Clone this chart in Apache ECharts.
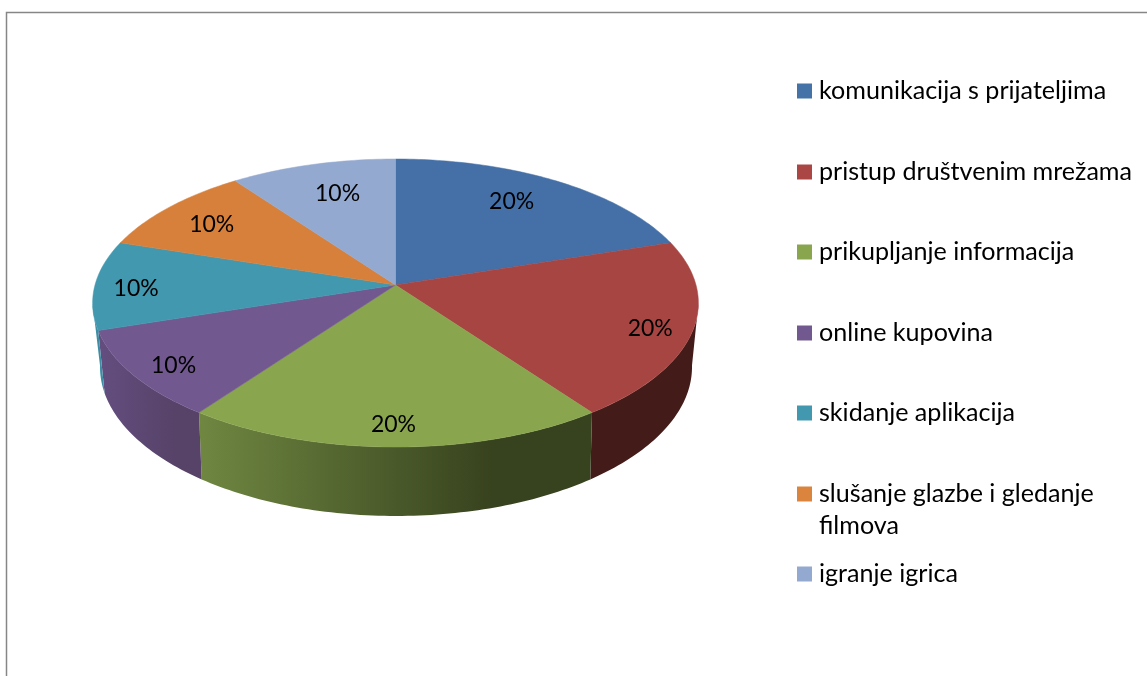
<!DOCTYPE html>
<html>
<head>
<meta charset="utf-8">
<style>
  html, body { margin: 0; padding: 0; background: #fff; }
  #chart { width: 1147px; height: 676px; }
</style>
<script src="https://cdn.jsdelivr.net/npm/echarts@6/dist/echarts.min.js"></script>
</head>
<body>
<div id="chart"></div>
<script>
const categories = [
  'komunikacija s prijateljima',
  'pristup društvenim mrežama',
  'prikupljanje informacija',
  'online kupovina',
  'skidanje aplikacija',
  'slušanje glazbe i gledanje\nfilmova',
  'igranje igrica'
]
const shares = [20, 20, 20, 10, 10, 10, 10]

// styling per slice
const topColors = ['#4470A7', '#A74543', '#89A54E', '#71588F', '#4198AF', '#D6803C', '#93A9CF']
const legendColors = ['#4572A7', '#AA4643', '#89A54E', '#71588F', '#4198AF', '#DB843D', '#93A9CF']
const sideStops = [
  ['#2c4a70', '#2c4a70'],
  ['#431C1A', '#431C1A'],
  ['#6F8741', '#37421E'],
  ['#634E80', '#574268'],
  ['#3C8EA5', '#3C8EA5'],
  ['#8a5426', '#8a5426'],
  ['#5f6e87', '#5f6e87']
]
const labelOffsets = [[-7, -3], [34, 10], [-2, 22], [-29, 14], [-34, 4], [-11, -1], [6, 1]]
const legendTops = [75, 156, 236, 317, 397, 446, 558]
const FONT = 'Lato, sans-serif'
const LABEL_SIZE = 23
const LEGEND_SIZE = 25.1

// perspective of the disc: top face and bottom rim
const TOP = { x: 395.5, y: 285, rx: 300.5, ry: 141.75, k: 0.125 }
const RIM = { x: 396, y: 346.1, rx: 293.1, ry: 146.1, k: 0.14 }
// the side wall only shows between these angles (clockwise from 12 o'clock)
const SIDE_FROM = 97.5
const SIDE_TO = 262.5

const total = shares.reduce((a, b) => a + b, 0)
const startAngles = []
shares.reduce((sum, v, i) => {
  startAngles[i] = sum / total * 360
  return sum + v
}, 0)

function project(p, deg, r) {
  const t = deg * Math.PI / 180
  const u = Math.sin(t) * r
  const v = -Math.cos(t) * r
  const w = 1 - p.k * v
  return [p.x + p.rx * u / w, p.y + p.ry * v / w]
}

function arc(p, from, to) {
  const pts = []
  const n = Math.max(2, Math.ceil(Math.abs(to - from)))
  for (let i = 0; i <= n; i++) {
    pts.push(project(p, from + (to - from) * i / n, 1))
  }
  return pts
}

function renderSlice(params, api) {
  const i = params.seriesIndex
  const value = api.value(0)
  const a0 = startAngles[i]
  const a1 = a0 + value / total * 360
  const children = []

  const s0 = Math.max(a0, SIDE_FROM)
  const s1 = Math.min(a1, SIDE_TO)
  if (s1 > s0) {
    const upper = arc(TOP, s0, s1)
    const lower = arc(RIM, s0, s1).reverse()
    const pts = upper.concat(lower)
    const xs = pts.map(q => q[0])
    // wall shading runs dark towards the right, as in the source chart
    const fill = new echarts.graphic.LinearGradient(
      Math.max.apply(null, xs), 0, Math.min.apply(null, xs), 0,
      [
        { offset: 0, color: sideStops[i][1] },
        { offset: 0.25, color: sideStops[i][1] },
        { offset: 1, color: sideStops[i][0] }
      ],
      true
    )
    children.push({
      type: 'polygon',
      shape: { points: pts },
      style: { fill: fill }
    })
  }

  children.push({
    type: 'polygon',
    shape: { points: [[TOP.x, TOP.y]].concat(arc(TOP, a0, a1)) },
    style: { fill: topColors[i], stroke: topColors[i], lineWidth: 0.5 }
  })

  const mid = project(TOP, (a0 + a1) / 2, 0.75)
  children.push({
    type: 'text',
    style: {
      text: Math.round(value / total * 100) + '%',
      x: mid[0] + labelOffsets[i][0],
      y: mid[1] + labelOffsets[i][1],
      align: 'center',
      verticalAlign: 'middle',
      fill: '#000',
      font: LABEL_SIZE + 'px ' + FONT
    }
  })
  return { type: 'group', children: children }
}

const chart = echarts.init(document.getElementById('chart'), null, { renderer: 'canvas' })
chart.setOption({
  animation: false,
  backgroundColor: '#fff',
  graphic: [{
    type: 'polyline',
    silent: true,
    shape: { points: [[6.5, 676], [6.5, 12.5], [1147, 12.5]] },
    style: { stroke: '#868686', lineWidth: 1.5, fill: null }
  }],
  legend: categories.map((name, i) => ({
    left: 797,
    top: legendTops[i],
    orient: 'vertical',
    data: [name],
    selectedMode: false,
    icon: 'rect',
    itemWidth: 15,
    itemHeight: 15,
    itemGap: 0,
    padding: 0,
    // blank first line keeps the square of the wrapped entry level with its first line
    formatter: n => (n.indexOf('\n') >= 0 ? '\n' + n : n),
    textStyle: {
      fontFamily: FONT,
      fontSize: LEGEND_SIZE,
      color: '#000',
      padding: [0, 0, 0, 2],
      lineHeight: 32
    }
  })),
  series: categories.map((name, i) => ({
    type: 'custom',
    name: name,
    coordinateSystem: 'none',
    silent: true,
    itemStyle: { color: legendColors[i] },
    data: [[shares[i]]],
    renderItem: renderSlice
  }))
})
</script>
</body>
</html>
